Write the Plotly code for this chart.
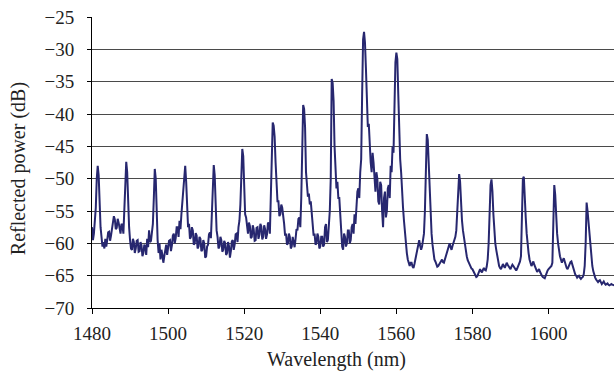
import numpy as np
import plotly.graph_objects as go

# Optical spectrum analyzer trace: 0.25 nm sampling from 1480 nm
start_nm = 1480.0
step_nm = 0.25

# Reflected power in dB, one row per 5 nm (20 samples)
power_db = [
    # 1480
    -57.5, -59.5, -58.5, -56.5, -54.5, -50.0, -48.0, -49.5, -55.5, -57.5,
    -59.0, -60.5, -59.8, -60.8, -59.3, -60.5, -59.5, -58.3, -58.2, -59.6,
    # 1485
    -58.8, -57.5, -57.0, -55.8, -56.3, -57.8, -57.6, -56.2, -56.8, -58.2,
    -58.5, -57.0, -57.2, -58.5, -55.5, -52.0, -47.4, -49.0, -55.0, -57.5,
    # 1490
    -59.5, -60.8, -61.0, -59.3, -59.8, -61.5, -60.8, -59.6, -59.5, -61.3,
    -61.2, -59.8, -60.3, -62.0, -61.5, -60.2, -60.5, -61.8, -59.3, -60.6,
    # 1495
    -58.0, -59.8, -59.6, -58.5, -57.0, -53.0, -48.5, -50.0, -56.5, -59.5,
    -61.5, -60.0, -62.5, -61.0, -61.8, -63.0, -62.0, -60.8, -60.2, -61.8,
    # 1500
    -61.0, -59.6, -59.5, -61.2, -60.3, -58.8, -58.5, -60.0, -59.2, -57.5,
    -57.5, -59.0, -56.5, -57.8, -55.5, -53.5, -51.0, -49.0, -48.0, -50.5,
    # 1505
    -55.0, -57.5, -57.0, -59.3, -59.0, -57.5, -58.0, -60.2, -60.0, -58.4,
    -58.8, -60.8, -60.5, -59.0, -59.3, -61.2, -61.0, -59.5, -60.0, -62.2,
    # 1510
    -62.0, -60.5, -60.2, -58.6, -58.3, -59.2, -55.5, -51.5, -47.9, -49.5,
    -55.5, -58.0, -59.0, -60.8, -60.5, -59.0, -59.5, -61.3, -61.0, -59.6,
    # 1515
    -60.0, -61.8, -61.5, -59.8, -60.4, -62.2, -61.2, -59.7, -59.5, -61.0,
    -60.2, -58.6, -58.5, -59.8, -57.5, -56.5, -54.0, -50.5, -45.4, -46.5,
    # 1520
    -51.0, -55.5, -56.0, -58.0, -58.5, -56.8, -57.3, -59.2, -59.0, -57.2,
    -57.8, -59.6, -59.5, -57.6, -57.5, -59.3, -58.7, -57.0, -57.4, -59.4,
    # 1525
    -59.0, -57.2, -57.8, -59.3, -58.6, -56.8, -57.0, -58.5, -53.0, -45.0,
    -41.3, -41.8, -43.5, -47.5, -52.0, -53.5, -53.5, -55.8, -55.5, -54.0,
    # 1530
    -54.5, -56.5, -57.0, -58.8, -58.5, -60.2, -60.0, -58.5, -59.0, -60.8,
    -60.5, -59.0, -59.8, -60.6, -59.3, -57.8, -58.0, -56.2, -56.0, -57.5,
    # 1535
    -53.0, -45.0, -38.6, -39.2, -42.0, -49.0, -51.5, -52.8, -52.3, -54.0,
    -53.5, -55.5, -57.0, -58.8, -58.5, -60.2, -60.0, -58.5, -59.0, -60.8,
    # 1540
    -60.5, -59.0, -59.0, -60.5, -60.2, -57.5, -57.0, -59.8, -59.5, -57.0,
    -55.0, -50.0, -34.6, -35.2, -38.0, -45.0, -48.0, -51.5, -50.5, -53.0,
    # 1545
    -53.0, -56.5, -58.0, -60.5, -61.0, -58.5, -59.0, -60.5, -60.0, -58.0,
    -58.0, -60.0, -59.5, -57.5, -57.0, -58.5, -55.5, -57.0, -54.0, -52.0,
    # 1550
    -51.5, -53.0, -49.0, -47.0, -37.0, -28.5, -27.3, -29.0, -33.0, -38.5,
    -42.0, -41.5, -45.0, -47.5, -49.0, -46.0, -47.5, -51.0, -52.0, -49.0,
    # 1555
    -50.0, -53.5, -54.0, -50.5, -51.0, -55.0, -57.5, -53.0, -52.0, -56.0,
    -55.0, -51.5, -51.0, -53.0, -48.0, -49.0, -45.0, -46.0, -38.0, -32.0,
    # 1560
    -30.5, -31.5, -37.0, -42.5, -47.0, -49.0, -53.0, -54.5, -56.5, -58.5,
    -60.0, -61.5, -62.5, -63.2, -63.5, -63.0, -63.0, -63.6, -63.8, -63.2,
    # 1565
    -62.5, -61.5, -61.0, -60.2, -59.5, -60.4, -61.0, -60.5, -59.5, -58.5,
    -55.0, -49.0, -43.1, -44.0, -47.5, -52.5, -56.5, -58.5, -60.2, -61.5,
    # 1570
    -62.5, -62.8, -63.2, -63.6, -63.5, -63.2, -63.0, -62.6, -62.5, -62.9,
    -63.0, -62.5, -62.0, -61.5, -61.2, -60.6, -60.0, -60.6, -61.0, -60.4,
    # 1575
    -60.0, -59.4, -59.0, -58.0, -55.0, -51.0, -49.3, -50.5, -54.0, -56.5,
    -58.0, -59.2, -60.0, -61.2, -62.0, -62.6, -63.0, -63.2, -63.5, -63.9,
    # 1580
    -64.0, -64.3, -64.5, -64.9, -65.2, -65.1, -64.8, -64.3, -64.0, -64.3,
    -64.5, -64.1, -63.8, -64.1, -64.2, -63.6, -62.5, -60.0, -55.0, -51.0,
    # 1585
    -50.1, -52.0, -55.5, -58.0, -60.0, -61.0, -62.0, -62.8, -63.5, -63.8,
    -64.0, -63.6, -63.2, -63.5, -63.8, -63.4, -63.0, -63.3, -63.6, -63.9,
    # 1590
    -64.0, -63.6, -63.3, -63.5, -63.8, -64.0, -64.2, -63.9, -63.5, -63.0,
    -62.8, -62.0, -56.0, -50.0, -49.7, -52.0, -56.0, -58.5, -60.5, -61.5,
    # 1595
    -62.5, -63.0, -63.5, -63.2, -62.8, -63.3, -63.8, -64.1, -64.4, -64.2,
    -64.0, -64.4, -64.8, -65.0, -65.2, -65.3, -65.4, -65.0, -64.5, -64.2,
    # 1600
    -64.0, -63.8, -63.6, -63.5, -63.0, -58.0, -51.0, -52.5, -56.0, -58.5,
    -60.0, -61.2, -62.0, -62.5, -63.0, -62.6, -62.3, -62.8, -63.5, -63.8,
    # 1605
    -64.0, -63.6, -63.2, -62.9, -62.8, -63.3, -64.0, -64.4, -64.8, -65.0,
    -65.3, -65.1, -65.0, -65.3, -65.5, -65.3, -65.2, -64.8, -63.5, -60.0,
    # 1610
    -53.7, -55.0, -57.0, -58.5, -61.0, -62.5, -63.5, -64.3, -65.0, -65.3,
    -65.6, -65.8, -66.0, -65.8, -65.7, -66.0, -66.3, -66.1, -65.9, -66.2,
    # 1615
    -66.4, -66.3, -66.2, -66.4, -66.5, -66.4, -66.3, -66.4, -66.4, -66.5,
]

wavelength_nm = start_nm + step_nm * np.arange(len(power_db))

x_ticks = [1480, 1500, 1520, 1540, 1560, 1580, 1600]
y_ticks = [-70, -65, -60, -55, -50, -45, -40, -35, -30, -25]

serif = "Liberation Serif, serif"
navy = "#27276f"
ink = "#222222"

fig = go.Figure()
fig.add_trace(go.Scatter(
    x=wavelength_nm,
    y=power_db,
    mode="lines",
    line=dict(color=navy, width=2),
    showlegend=False,
    hoverinfo="skip",
))

fig.update_layout(
    width=614,
    height=372,
    margin=dict(l=92, r=0, t=17, b=64),
    paper_bgcolor="white",
    plot_bgcolor="white",
    font=dict(family=serif, size=19, color=ink),
    xaxis=dict(
        range=[1480, 1617.2],
        tickvals=x_ticks,
        tickfont=dict(family=serif, size=19, color=ink),
        ticks="outside",
        ticklen=5,
        tickcolor="black",
        showline=True,
        linecolor="black",
        linewidth=1,
        showgrid=False,
        zeroline=False,
        ticklabelstandoff=3,
    ),
    yaxis=dict(
        range=[-70, -25],
        tickvals=y_ticks,
        tickfont=dict(family=serif, size=19, color=ink),
        ticks="outside",
        ticklen=4,
        tickcolor="black",
        showline=True,
        linecolor="black",
        linewidth=1,
        showgrid=True,
        gridcolor="#4a4a4a",
        gridwidth=1,
        zeroline=False,
        ticklabelstandoff=9,
    ),
    annotations=[
        dict(
            text="Wavelength (nm)",
            xref="paper", yref="paper",
            x=0.469, y=-0.132,
            xanchor="center", yanchor="top",
            showarrow=False,
            font=dict(family=serif, size=20, color=ink),
        ),
        dict(
            text="Reflected power (dB)",
            xref="paper", yref="paper",
            x=-0.142, y=0.48,
            xanchor="center", yanchor="middle",
            textangle=-90,
            showarrow=False,
            font=dict(family=serif, size=20, color=ink),
        ),
    ],
)

fig.write_html("out.html")
